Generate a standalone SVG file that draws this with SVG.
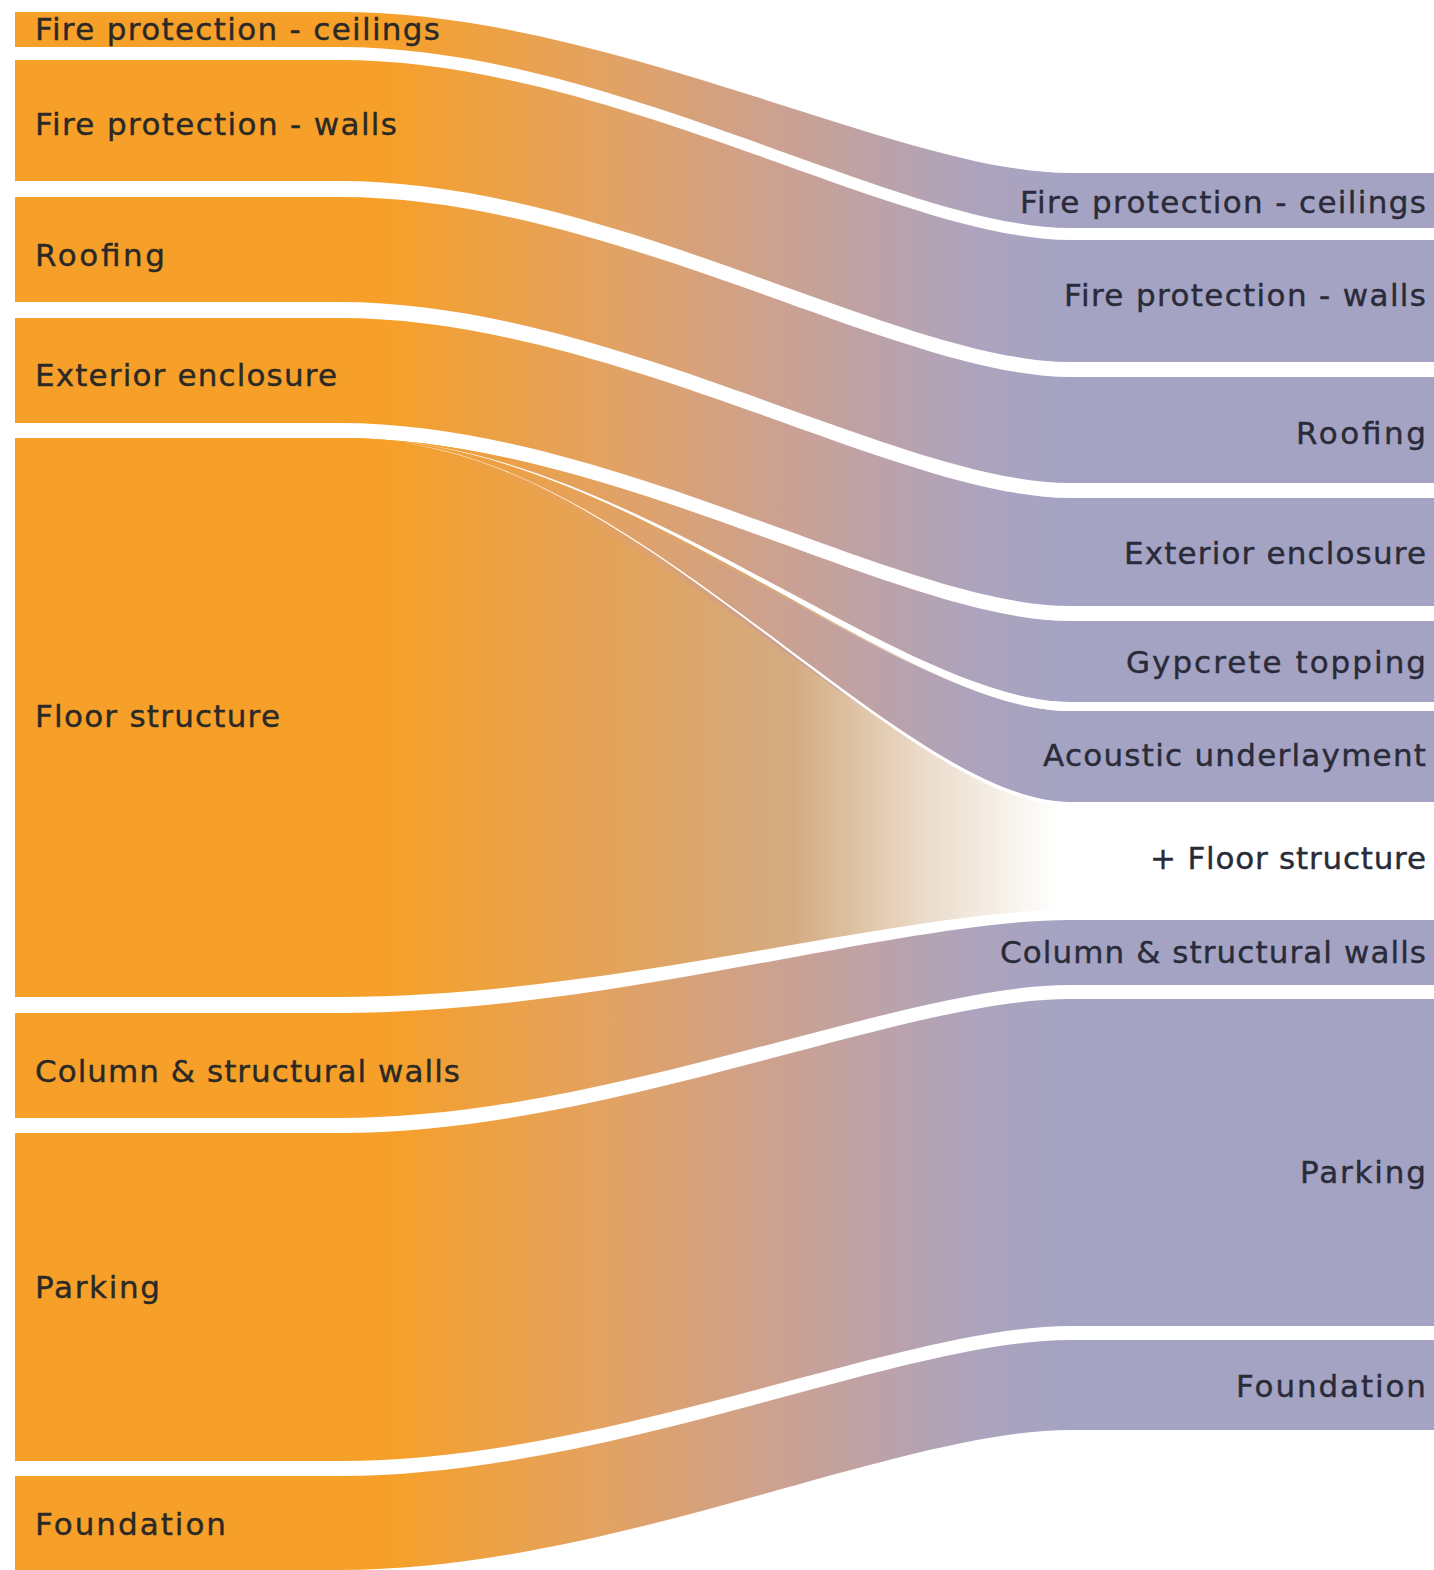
<svg xmlns="http://www.w3.org/2000/svg" width="1434" height="1570" viewBox="0 0 1434 1570">
<defs>
<linearGradient id="flow" gradientUnits="userSpaceOnUse" x1="390" y1="0" x2="1070" y2="0">
<stop offset="0" stop-color="#F6A02A"/>
<stop offset="0.3" stop-color="#E4A25F"/>
<stop offset="0.6" stop-color="#C9A195"/>
<stop offset="0.85" stop-color="#AEA3BC"/>
<stop offset="1" stop-color="#A4A3C4"/>
</linearGradient>
<linearGradient id="floorFade" gradientUnits="userSpaceOnUse" x1="390" y1="0" x2="1060" y2="0">
<stop offset="0" stop-color="#F6A02A"/>
<stop offset="0.35" stop-color="#E2A35C"/>
<stop offset="0.6" stop-color="#D3AB82"/>
<stop offset="0.8" stop-color="#EBDCCB"/>
<stop offset="1" stop-color="#FFFFFF"/>
</linearGradient>
<style>
.band{fill:url(#flow)}
.floor{fill:url(#floorFade)}
.gap{fill:#FFFFFF}
text{font-family:"DejaVu Sans","Liberation Sans",sans-serif;font-size:31px;fill:#2B2926;stroke:#2B2926;stroke-width:0.4}
.r{fill:#2A2B38;stroke:#2A2B38}
</style>
</defs>
<rect width="1434" height="1570" fill="#FFFFFF"/>
<g id="connectors">
<path id="floor-structure-flow" class="floor" d="M15,438 H340 C610,438 900,621 1070,621 H1080 V910 H1070 C900,910 610,997 340,997 H15 Z"/>
<path id="flow-fire-ceilings" class="band" d="M15,12 H340 C610,12 900,173 1070,173 H1434 V228 H1070 C900,228 610,47 340,47 H15 Z"/>
<path id="flow-fire-walls" class="band" d="M15,60 H340 C610,60 900,240 1070,240 H1434 V362 H1070 C900,362 610,181 340,181 H15 Z"/>
<path id="flow-roofing" class="band" d="M15,197 H340 C610,197 900,377 1070,377 H1434 V483 H1070 C900,483 610,302 340,302 H15 Z"/>
<path id="flow-exterior" class="band" d="M15,318 H340 C610,318 900,498 1070,498 H1434 V606 H1070 C900,606 610,423 340,423 H15 Z"/>
<path id="flow-gypcrete" class="band" d="M340,438 C610,438 900,621 1070,621 H1434 V702 H1070 C900,702 610,439.5 340,439.5 Z"/>
<path id="flow-acoustic" class="band" d="M340,439.5 C610,439.5 900,711 1070,711 H1434 V802 H1070 C900,802 610,441 340,441 Z"/>
<path id="gap-gyp-ac" class="gap" d="M360,439.6 C620,439.6 900,702 1070,702 H1080 V711 H1070 C900,711 620,440.2 360,439.6 Z"/>
<path id="gap-ac-floor" class="gap" d="M370,441.2 C625,441.2 900,802 1070,802 H1080 V806 H1070 C900,806 625,442 370,441.2 Z"/>
<path id="flow-column" class="band" d="M15,1013 H340 C610,1013 900,920 1070,920 H1434 V985 H1070 C900,985 610,1118 340,1118 H15 Z"/>
<path id="flow-parking" class="band" d="M15,1133 H340 C610,1133 900,999 1070,999 H1434 V1326 H1070 C900,1326 610,1461 340,1461 H15 Z"/>
<path id="flow-foundation" class="band" d="M15,1476 H340 C610,1476 900,1340 1070,1340 H1434 V1430 H1070 C900,1430 610,1570 340,1570 H15 Z"/>
</g>
<g id="node-left-fire-ceilings"><text x="35" y="40" textLength="405">Fire protection - ceilings</text></g>
<g id="node-left-fire-walls"><text x="35" y="135" textLength="362">Fire protection - walls</text></g>
<g id="node-left-roofing"><text x="35" y="266" textLength="130">Roofing</text></g>
<g id="node-left-exterior"><text x="35" y="386" textLength="302">Exterior enclosure</text></g>
<g id="node-left-floor"><text x="35" y="727" textLength="245">Floor structure</text></g>
<g id="node-left-column"><text x="35" y="1082" textLength="425">Column &amp; structural walls</text></g>
<g id="node-left-parking"><text x="35" y="1298" textLength="125">Parking</text></g>
<g id="node-left-foundation"><text x="35" y="1535" textLength="191">Foundation</text></g>
<g id="node-right-fire-ceilings"><text class="r" x="1020" y="213" textLength="406">Fire protection - ceilings</text></g>
<g id="node-right-fire-walls"><text class="r" x="1064" y="306" textLength="362">Fire protection - walls</text></g>
<g id="node-right-roofing"><text class="r" x="1296" y="444" textLength="130">Roofing</text></g>
<g id="node-right-exterior"><text class="r" x="1124" y="564" textLength="302">Exterior enclosure</text></g>
<g id="node-right-gypcrete"><text class="r" x="1126" y="673" textLength="300">Gypcrete topping</text></g>
<g id="node-right-acoustic"><text class="r" x="1043" y="766" textLength="383">Acoustic underlayment</text></g>
<g id="node-right-floor"><text class="r" x="1150" y="869" textLength="276">+ Floor structure</text></g>
<g id="node-right-column"><text class="r" x="1000" y="963" textLength="426">Column &amp; structural walls</text></g>
<g id="node-right-parking"><text class="r" x="1300" y="1183" textLength="126">Parking</text></g>
<g id="node-right-foundation"><text class="r" x="1236" y="1397" textLength="190">Foundation</text></g>
</svg>
